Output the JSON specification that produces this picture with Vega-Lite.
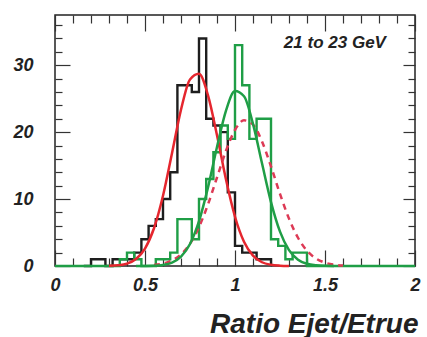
{
  "$schema": "https://vega.github.io/schema/vega-lite/v6.json",
  "width": 360,
  "height": 251,
  "autosize": {"type": "none"},
  "padding": {"left": 55, "top": 15, "right": 12, "bottom": 71},
  "background": "white",
  "config": {
    "view": {"stroke": "#222", "strokeWidth": 1.5},
    "axis": {"grid": false, "domain": false}
  },
  "datasets": {
    "black": [
      {"x": 0.16, "n": 0}, {"x": 0.20, "n": 1}, {"x": 0.24, "n": 1}, {"x": 0.28, "n": 0},
      {"x": 0.32, "n": 1}, {"x": 0.36, "n": 1}, {"x": 0.40, "n": 1}, {"x": 0.44, "n": 2},
      {"x": 0.48, "n": 4}, {"x": 0.52, "n": 6}, {"x": 0.56, "n": 7}, {"x": 0.60, "n": 10},
      {"x": 0.64, "n": 14}, {"x": 0.68, "n": 27}, {"x": 0.72, "n": 27}, {"x": 0.76, "n": 26},
      {"x": 0.80, "n": 34}, {"x": 0.84, "n": 22}, {"x": 0.88, "n": 21}, {"x": 0.92, "n": 20},
      {"x": 0.96, "n": 11}, {"x": 1.00, "n": 3}, {"x": 1.04, "n": 2}, {"x": 1.08, "n": 2},
      {"x": 1.12, "n": 1}, {"x": 1.16, "n": 1}, {"x": 1.20, "n": 0}
    ],
    "green": [
      {"x": 0.00, "n": 0}, {"x": 0.04, "n": 0}, {"x": 0.08, "n": 0}, {"x": 0.12, "n": 0},
      {"x": 0.16, "n": 0}, {"x": 0.20, "n": 0}, {"x": 0.24, "n": 0}, {"x": 0.28, "n": 0},
      {"x": 0.32, "n": 0}, {"x": 0.36, "n": 1}, {"x": 0.40, "n": 2}, {"x": 0.44, "n": 1},
      {"x": 0.48, "n": 0}, {"x": 0.52, "n": 0}, {"x": 0.56, "n": 1}, {"x": 0.60, "n": 1},
      {"x": 0.64, "n": 2}, {"x": 0.68, "n": 7}, {"x": 0.72, "n": 7}, {"x": 0.76, "n": 4},
      {"x": 0.80, "n": 10}, {"x": 0.84, "n": 13}, {"x": 0.88, "n": 17}, {"x": 0.92, "n": 21},
      {"x": 0.96, "n": 19}, {"x": 1.00, "n": 33}, {"x": 1.04, "n": 27}, {"x": 1.08, "n": 19},
      {"x": 1.12, "n": 22}, {"x": 1.16, "n": 22}, {"x": 1.20, "n": 4}, {"x": 1.24, "n": 3},
      {"x": 1.28, "n": 1}, {"x": 1.32, "n": 2}, {"x": 1.36, "n": 2}, {"x": 1.40, "n": 0},
      {"x": 1.44, "n": 0}, {"x": 1.48, "n": 0}, {"x": 1.52, "n": 0}, {"x": 1.56, "n": 0},
      {"x": 1.60, "n": 0}, {"x": 1.64, "n": 0}, {"x": 1.68, "n": 0}, {"x": 1.72, "n": 0},
      {"x": 1.76, "n": 0}, {"x": 1.80, "n": 0}, {"x": 1.84, "n": 0}, {"x": 1.88, "n": 0},
      {"x": 1.92, "n": 0}, {"x": 1.96, "n": 0}, {"x": 2.00, "n": 0}
    ],
    "fitRed": [
      {"x": 0.30, "y": 0.03}, {"x": 0.35, "y": 0.11}, {"x": 0.40, "y": 0.36}, {"x": 0.45, "y": 1.05},
      {"x": 0.50, "y": 2.61}, {"x": 0.55, "y": 5.64}, {"x": 0.60, "y": 10.5}, {"x": 0.65, "y": 16.85},
      {"x": 0.70, "y": 23.34}, {"x": 0.75, "y": 27.87}, {"x": 0.80, "y": 28.71}, {"x": 0.85, "y": 25.5},
      {"x": 0.90, "y": 19.54}, {"x": 0.95, "y": 12.92}, {"x": 1.00, "y": 7.36}, {"x": 1.05, "y": 3.62},
      {"x": 1.10, "y": 1.54}, {"x": 1.15, "y": 0.56}, {"x": 1.20, "y": 0.18}, {"x": 1.25, "y": 0.05},
      {"x": 1.30, "y": 0.01}
    ],
    "fitGreen": [
      {"x": 0.45, "y": 0.0}, {"x": 0.50, "y": 0.01}, {"x": 0.55, "y": 0.04}, {"x": 0.60, "y": 0.16},
      {"x": 0.65, "y": 0.51}, {"x": 0.70, "y": 1.4}, {"x": 0.75, "y": 3.29}, {"x": 0.80, "y": 6.7},
      {"x": 0.85, "y": 11.75}, {"x": 0.90, "y": 17.78}, {"x": 0.95, "y": 23.21}, {"x": 1.00, "y": 26.13},
      {"x": 1.05, "y": 25.36}, {"x": 1.10, "y": 21.24}, {"x": 1.15, "y": 15.34}, {"x": 1.20, "y": 9.55},
      {"x": 1.25, "y": 5.13}, {"x": 1.30, "y": 2.38}, {"x": 1.35, "y": 0.95}, {"x": 1.40, "y": 0.33},
      {"x": 1.45, "y": 0.1}, {"x": 1.50, "y": 0.03}, {"x": 1.55, "y": 0.01}
    ],
    "fitDashed": [
      {"x": 0.55, "y": 0.14}, {"x": 0.60, "y": 0.35}, {"x": 0.65, "y": 0.82}, {"x": 0.70, "y": 1.73},
      {"x": 0.75, "y": 3.34}, {"x": 0.80, "y": 5.82}, {"x": 0.85, "y": 9.21}, {"x": 0.90, "y": 13.22},
      {"x": 0.95, "y": 17.21}, {"x": 1.00, "y": 20.32}, {"x": 1.05, "y": 21.76}, {"x": 1.10, "y": 21.13},
      {"x": 1.15, "y": 18.61}, {"x": 1.20, "y": 14.87}, {"x": 1.25, "y": 10.77}, {"x": 1.30, "y": 7.08},
      {"x": 1.35, "y": 4.22}, {"x": 1.40, "y": 2.28}, {"x": 1.45, "y": 1.12}, {"x": 1.50, "y": 0.5},
      {"x": 1.55, "y": 0.2}, {"x": 1.60, "y": 0.07}
    ]
  },
  "resolve": {"axis": {"x": "independent", "y": "independent"}},
  "layer": [
    {
      "data": {"name": "black"},
      "mark": {"type": "line", "interpolate": "step-after", "color": "#1e1e1e", "strokeWidth": 2.4},
      "encoding": {
        "x": {"field": "x", "type": "quantitative",
          "scale": {"domain": [0, 2], "nice": false, "zero": false},
          "axis": {"orient": "bottom", "values": [0, 0.5, 1, 1.5, 2], "format": "~g", "ticks": false,
            "labelFont": "Liberation Sans", "labelFontSize": 18, "labelFontWeight": "bold", "labelFontStyle": "italic",
            "labelColor": "#222", "labelPadding": 10, "labelFlush": false, "labelOverlap": false,
            "title": "Ratio Ejet/Etrue", "titleFont": "Liberation Sans", "titleFontSize": 28, "titleFontWeight": "bold",
            "titleFontStyle": "italic", "titleColor": "#222", "titleAlign": "right", "titleAnchor": "end",
            "titleBaseline": "alphabetic", "titleX": 363, "titleY": 66}},
        "y": {"field": "n", "type": "quantitative",
          "scale": {"domain": [0, 37.5], "nice": false},
          "axis": {"orient": "left", "values": [0, 10, 20, 30], "format": "d", "ticks": false,
            "labelFont": "Liberation Sans", "labelFontSize": 18, "labelFontWeight": "bold", "labelFontStyle": "italic",
            "labelColor": "#222", "labelPadding": 22, "labelOverlap": false, "title": null}}
      }
    },
    {
      "data": {"name": "green"},
      "mark": {"type": "line", "interpolate": "step-after", "color": "#1f9e46", "strokeWidth": 2.4},
      "encoding": {
        "x": {"field": "x", "type": "quantitative",
          "scale": {"domain": [0, 2], "nice": false, "zero": false},
          "axis": {"orient": "bottom", "values": [0, 0.5, 1, 1.5, 2], "labels": false, "ticks": true,
            "tickSize": 16, "offset": -16, "tickColor": "#333", "tickWidth": 1.2, "title": null}},
        "y": {"field": "n", "type": "quantitative",
          "scale": {"domain": [0, 37.5], "nice": false},
          "axis": {"orient": "left", "values": [0, 10, 20, 30], "labels": false, "ticks": true,
            "tickSize": 15, "offset": -15, "tickColor": "#333", "tickWidth": 1.2, "title": null}}
      }
    },
    {
      "data": {"name": "fitRed"},
      "mark": {"type": "line", "interpolate": "monotone", "color": "#e5262e", "strokeWidth": 2.5},
      "encoding": {
        "x": {"field": "x", "type": "quantitative",
          "scale": {"domain": [0, 2], "nice": false, "zero": false},
          "axis": {"orient": "bottom", "values": [0.1, 0.2, 0.3, 0.4, 0.6, 0.7, 0.8, 0.9, 1.1, 1.2, 1.3, 1.4, 1.6, 1.7, 1.8, 1.9],
            "labels": false, "ticks": true, "tickSize": 8, "offset": -8, "tickColor": "#333", "tickWidth": 1.2, "title": null}},
        "y": {"field": "y", "type": "quantitative",
          "scale": {"domain": [0, 37.5], "nice": false},
          "axis": {"orient": "left", "values": [2, 4, 6, 8, 12, 14, 16, 18, 22, 24, 26, 28, 32, 34, 36],
            "labels": false, "ticks": true, "tickSize": 7, "offset": -7, "tickColor": "#333", "tickWidth": 1.2, "title": null}}
      }
    },
    {
      "data": {"name": "fitDashed"},
      "mark": {"type": "line", "interpolate": "monotone", "color": "#dd3a55", "strokeWidth": 2.5, "strokeDash": [6, 5]},
      "encoding": {
        "x": {"field": "x", "type": "quantitative",
          "scale": {"domain": [0, 2], "nice": false, "zero": false},
          "axis": {"orient": "top", "values": [0, 0.5, 1, 1.5, 2], "labels": false, "ticks": true,
            "tickSize": 16, "offset": -16, "tickColor": "#333", "tickWidth": 1.2, "title": null}},
        "y": {"field": "y", "type": "quantitative",
          "scale": {"domain": [0, 37.5], "nice": false},
          "axis": {"orient": "right", "values": [0, 10, 20, 30], "labels": false, "ticks": true,
            "tickSize": 12, "offset": -12, "tickColor": "#333", "tickWidth": 1.2, "title": null}}
      }
    },
    {
      "data": {"name": "fitGreen"},
      "mark": {"type": "line", "interpolate": "monotone", "color": "#1f9e46", "strokeWidth": 2.5},
      "encoding": {
        "x": {"field": "x", "type": "quantitative",
          "scale": {"domain": [0, 2], "nice": false, "zero": false},
          "axis": {"orient": "top", "values": [0.1, 0.2, 0.3, 0.4, 0.6, 0.7, 0.8, 0.9, 1.1, 1.2, 1.3, 1.4, 1.6, 1.7, 1.8, 1.9],
            "labels": false, "ticks": true, "tickSize": 8, "offset": -8, "tickColor": "#333", "tickWidth": 1.2, "title": null}},
        "y": {"field": "y", "type": "quantitative",
          "scale": {"domain": [0, 37.5], "nice": false},
          "axis": {"orient": "right", "values": [2, 4, 6, 8, 12, 14, 16, 18, 22, 24, 26, 28, 32, 34, 36],
            "labels": false, "ticks": true, "tickSize": 7, "offset": -7, "tickColor": "#333", "tickWidth": 1.2, "title": null}}
      }
    },
    {
      "data": {"values": [{"label": "21 to 23 GeV"}]},
      "mark": {"type": "text", "font": "Liberation Sans", "fontSize": 17, "fontWeight": "bold", "fontStyle": "italic",
        "color": "#222", "align": "center", "baseline": "alphabetic"},
      "encoding": {
        "x": {"datum": 1.555, "type": "quantitative", "scale": {"domain": [0, 2], "nice": false, "zero": false}, "axis": null},
        "y": {"datum": 32.6, "type": "quantitative", "scale": {"domain": [0, 37.5], "nice": false}, "axis": null},
        "text": {"field": "label", "type": "nominal"}
      }
    }
  ]
}
